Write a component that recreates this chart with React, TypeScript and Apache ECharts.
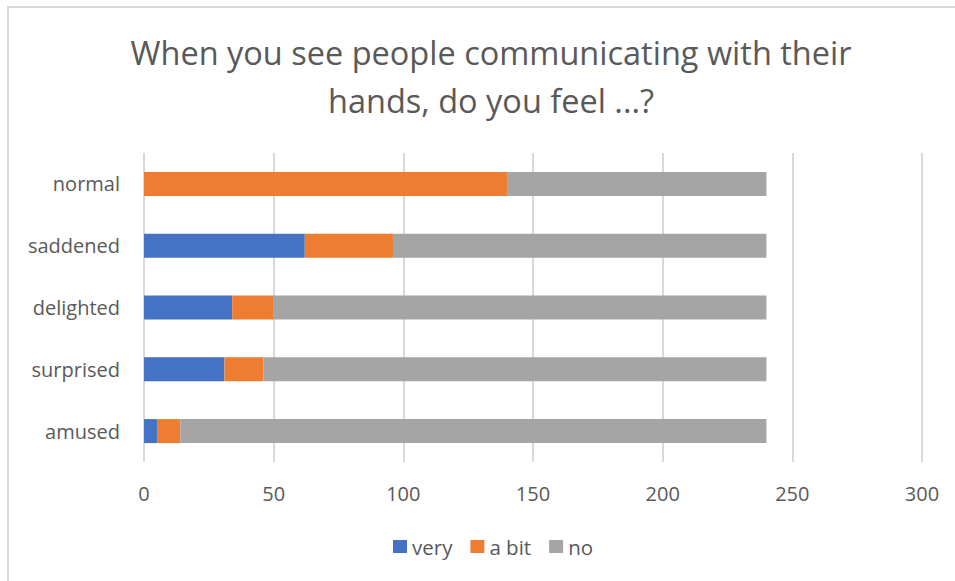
import React, { useEffect, useRef } from "react";
import * as echarts from "echarts";

const categories = ["normal", "saddened", "delighted", "surprised", "amused"];
const veryValues = [0, 62, 34, 31, 5];
const aBitValues = [140, 34, 16, 15, 9];
const noValues = [100, 144, 190, 194, 226];
const seriesNames = ["very", "a bit", "no"];
const xTicks = [0, 50, 100, 150, 200, 250, 300];
const titleText = "When you see people communicating with their\nhands, do you feel ...?";

const FONT = "'Open Sans', sans-serif";
const TEXT = "#595959";

export default function App() {
  const ref = useRef<HTMLDivElement>(null);
  useEffect(() => {
    if (!ref.current) return;
    const chart = echarts.init(ref.current, undefined, { renderer: "svg" });
    const colors = ["#4472C4", "#ED7D31", "#A5A5A5"];
    const values = [veryValues, aBitValues, noValues];
    chart.setOption({
      animation: false,
      backgroundColor: "#ffffff",
      title: {
        text: titleText,
        left: 486,
        top: 23,
        textAlign: "center",
        textStyle: {
          fontFamily: FONT,
          fontSize: 32.5,
          fontWeight: "normal",
          color: TEXT,
          lineHeight: 48,
        },
      },
      graphic: [
        {
          type: "rect",
          shape: { x: 8, y: 7, width: 1200, height: 1200 },
          style: { fill: "none", stroke: "#d9d9d9", lineWidth: 2 },
          silent: true,
        },
      ],
      legend: {
        bottom: 19,
        left: 388,
        itemWidth: 14,
        itemHeight: 13,
        itemGap: 18,
        icon: "rect",
        textStyle: { fontFamily: FONT, fontSize: 20.5, color: TEXT },
        data: seriesNames,
      },
      grid: { left: 144, right: 33, top: 153, bottom: 119 },
      xAxis: {
        type: "value",
        min: xTicks[0],
        max: xTicks[xTicks.length - 1],
        interval: 50,
        axisLine: { show: false },
        axisTick: { show: false },
        splitLine: { lineStyle: { color: "#d9d9d9", width: 2 } },
        axisLabel: { fontFamily: FONT, fontSize: 20, color: TEXT, margin: 21 },
      },
      yAxis: {
        type: "category",
        data: categories,
        inverse: true,
        axisLine: { show: false },
        axisTick: { show: false },
        axisLabel: { fontFamily: FONT, fontSize: 20, color: TEXT, margin: 24 },
      },
      series: seriesNames.map((name, i) => ({
        name,
        type: "bar",
        stack: "total",
        barWidth: 24,
        itemStyle: { color: colors[i] },
        data: values[i],
      })),
    });
    return () => chart.dispose();
  }, []);
  return (
    <div
      ref={ref}
      style={{ position: "fixed", left: 0, top: 0, width: 955, height: 581 }}
    />
  );
}
